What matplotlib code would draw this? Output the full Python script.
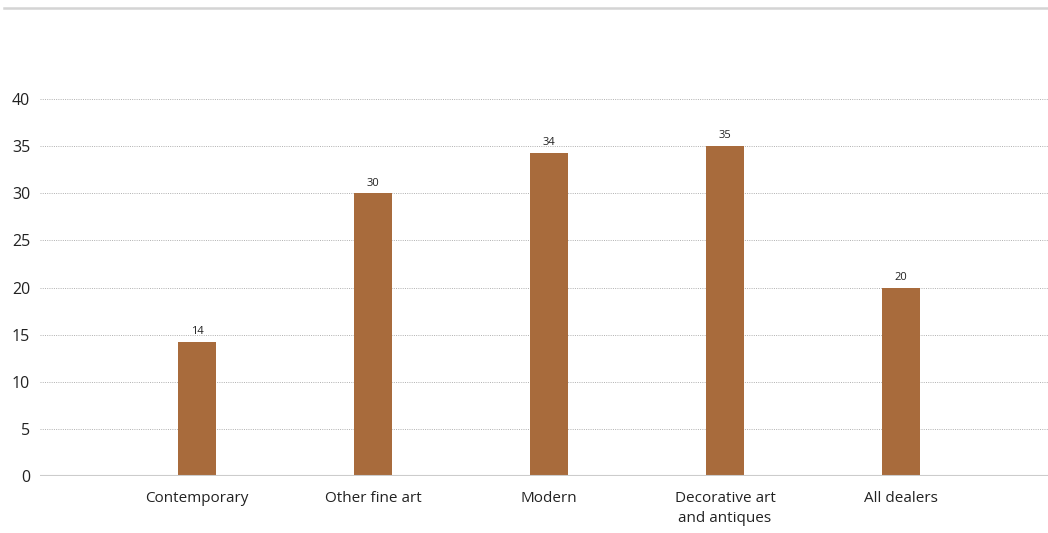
import matplotlib
matplotlib.use("Agg")
import matplotlib.pyplot as plt
from matplotlib.lines import Line2D

categories = ["Contemporary", "Other fine art", "Modern", "Decorative art\nand antiques", "All dealers"]
values = [14.2, 30.0, 34.3, 35.0, 20.0]
value_labels = ["14", "30", "34", "35", "20"]
yticks = [0, 5, 10, 15, 20, 25, 30, 35, 40]

plt.rcParams['font.family'] = ['Open Sans', 'DejaVu Sans']

fig = plt.figure(figsize=(10.48, 5.33), dpi=100)
ax = fig.add_axes([40/1048, 1-476/533, 1-40/1048, (476-99)/533])

x = list(range(len(categories)))
bars = ax.bar(x, values, width=0.216, color="#a86b3c", zorder=3)
for xi, v, lab in zip(x, values, value_labels):
    ax.text(xi, v + 0.5, lab, ha="center", va="bottom", fontsize=8, color="#222222")

ax.set_xlim(-0.892, 4.835)
ax.set_ylim(0, 40)
ax.set_yticks(yticks)
ax.set_yticklabels([str(t) for t in yticks], fontsize=11.5, color="#222222")
ax.set_xticks(x)
ax.set_xticklabels(categories, fontsize=11, color="#222222", linespacing=1.45)
ax.tick_params(axis="both", length=0)
ax.tick_params(axis="y", pad=7)
ax.tick_params(axis="x", pad=11)

for t in yticks[1:]:
    ax.axhline(t, color="#b0b0b0", linewidth=0.7, linestyle=(0, (1, 1.3)), zorder=1)
ax.axhline(0, color="#cccccc", linewidth=1.5, zorder=4)

for s in ax.spines.values():
    s.set_visible(False)

fig.add_artist(Line2D([4/1048, 1], [1-8/533, 1-8/533], color="#d4d4d4", linewidth=1.8, transform=fig.transFigure))

fig.savefig("out.png", dpi=100)
